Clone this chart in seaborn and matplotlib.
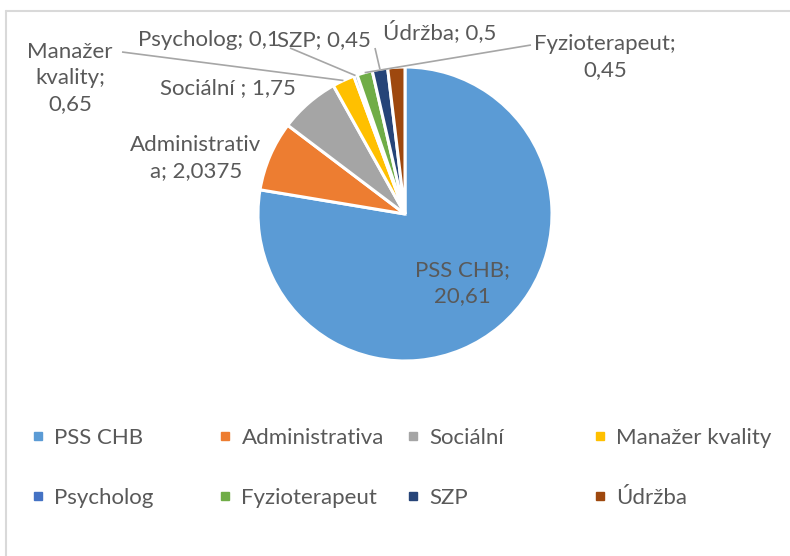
import matplotlib
matplotlib.use("Agg")
import matplotlib.pyplot as plt
from matplotlib.lines import Line2D
import numpy as np
import seaborn as sns

# ---- data ----
categories = ["PSS CHB", "Administrativa", "Sociální", "Manažer kvality",
              "Psycholog", "Fyzioterapeut", "SZP", "Údržba"]
values = [20.61, 2.0375, 1.75, 0.65, 0.1, 0.45, 0.45, 0.5]
value_labels = ["20,61", "2,0375", "1,75", "0,65", "0,1", "0,45", "0,45", "0,5"]
label_texts = ["PSS CHB;\n20,61", "Administrativ\na; 2,0375", "Sociální ; 1,75",
               "Manažer\nkvality;\n0,65", "Psycholog; 0,1", "Fyzioterapeut;\n0,45",
               "SZP; 0,45", "Údržba; 0,5"]
colors = ["#5B9BD5", "#ED7D31", "#A5A5A5", "#FFC000",
          "#4472C4", "#70AD47", "#264478", "#9E480E"]

# ---- style ----
sns.set_theme(style="white")
plt.rcParams["font.family"] = ["Lato", "DejaVu Sans"]
TXT = "#595959"
FS = 16

W, H = 790, 556
fig = plt.figure(figsize=(W / 100, H / 100), dpi=100)
fig.patch.set_facecolor("white")

# pie geometry in pixels
cx, cy, R = 405, 214, 147
half = 200
ax = fig.add_axes([(cx - half) / W, (H - cy - half) / H, 2 * half / W, 2 * half / H])
lim = half / R

pal = sns.color_palette(colors)
wedges, _ = ax.pie(values, colors=pal, startangle=90, counterclock=False,
                   radius=1.0, wedgeprops=dict(edgecolor="white", linewidth=2.2))
ax.set_xlim(-lim, lim)
ax.set_ylim(-lim, lim)
ax.set_aspect("equal")
ax.axis("off")


def px2d(px, py):
    return (px - cx) / R, (cy - py) / R


# label centres (pixel positions in the chart)
label_pos = [(462, 283), (196, 158), (228, 88), (70, 78),
             (209, 40), (605, 57), (324, 40), (440, 32)]
for txt, (px, py) in zip(label_texts, label_pos):
    x, y = px2d(px, py)
    ax.text(x, y, txt, ha="center", va="center", fontsize=FS, color=TXT,
            linespacing=1.35, clip_on=False)

# leader lines: (slice index, anchor pixel)
leaders = [(3, (122, 52)), (4, (290, 48)), (6, (375, 48)), (5, (531, 45))]
for idx, (px, py) in leaders:
    w = wedges[idx]
    mid = np.deg2rad((w.theta1 + w.theta2) / 2)
    ex, ey = np.cos(mid) * w.r, np.sin(mid) * w.r
    ax_, ay_ = px2d(px, py)
    ax.plot([ax_, ex], [ay_, ey], color="#A6A6A6", lw=1.2, clip_on=False,
            solid_capstyle="butt")

# legend: 4 columns x 2 rows
col_x = [38, 225, 413, 600]
for c in range(4):
    handles = []
    labs = []
    for r in range(2):
        i = r * 4 + c
        handles.append(Line2D([], [], marker="s", linestyle="", color=colors[i],
                              markersize=5.5))
        labs.append(categories[i])
    leg = fig.legend(handles, labs, loc="upper left",
                     bbox_to_anchor=((col_x[c] - 8) / W, 1 - 428 / H),
                     frameon=False, fontsize=FS, handlelength=0.7,
                     handletextpad=0.4, labelspacing=1.8,
                     borderpad=0, borderaxespad=0)
    for t in leg.get_texts():
        t.set_color(TXT)

# chart border (top and left visible)
bc = "#D9D9D9"
fig.add_artist(Line2D([6 / W, 1], [1 - 11 / H, 1 - 11 / H], transform=fig.transFigure,
                      color=bc, lw=1.5))
fig.add_artist(Line2D([6 / W, 6 / W], [0, 1 - 11 / H], transform=fig.transFigure,
                      color=bc, lw=1.5))

fig.savefig("out.png", dpi=100, facecolor="white")
